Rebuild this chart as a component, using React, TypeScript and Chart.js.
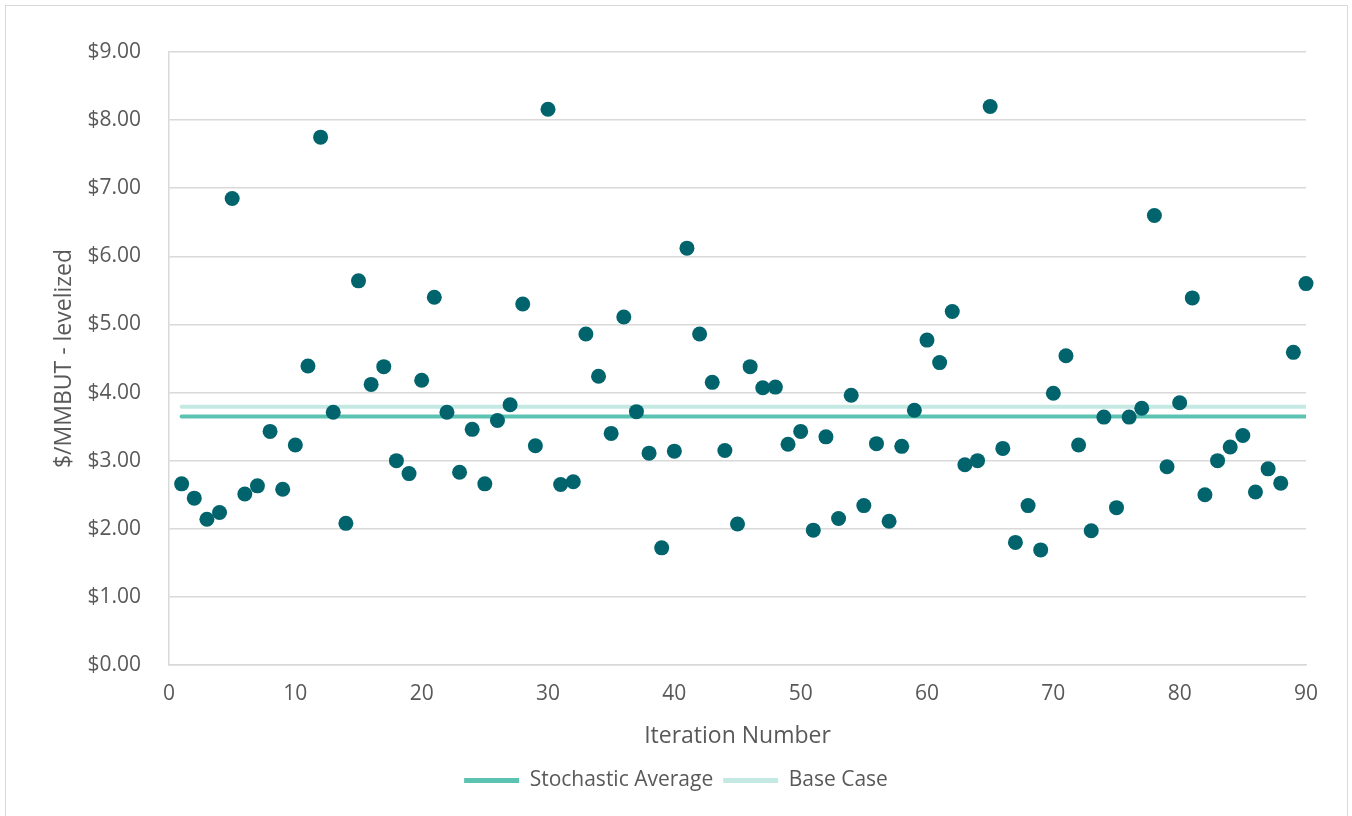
import React, { useEffect, useRef } from "react";
import { Chart, registerables } from "chart.js";

Chart.register(...registerables);

// Levelized cost per iteration ($/MMBTU), iterations 1..90
const levelizedCost: number[] = [
  2.66, 2.45, 2.14, 2.24, 6.85, 2.51, 2.63, 3.43, 2.58, 3.23,
  4.39, 7.75, 3.71, 2.08, 5.64, 4.12, 4.38, 3.0, 2.81, 4.18,
  5.4, 3.71, 2.83, 3.46, 2.66, 3.59, 3.82, 5.3, 3.22, 8.16,
  2.65, 2.69, 4.86, 4.24, 3.4, 5.11, 3.72, 3.11, 1.72, 3.14,
  6.12, 4.86, 4.15, 3.15, 2.07, 4.38, 4.07, 4.08, 3.24, 3.43,
  1.98, 3.35, 2.15, 3.96, 2.34, 3.25, 2.11, 3.21, 3.74, 4.77,
  4.44, 5.19, 2.94, 3.0, 8.2, 3.18, 1.8, 2.34, 1.69, 3.99,
  4.54, 3.23, 1.97, 3.64, 2.31, 3.64, 3.77, 6.6, 2.91, 3.85,
  5.39, 2.5, 3.0, 3.2, 3.37, 2.54, 2.88, 2.67, 4.59, 5.6,
];

const stochasticAverage = 3.65;
const baseCase = 3.79;
const lineSpan: number[] = [1, 90];

const xAxisRange: number[] = [0, 90, 10];
const yAxisRange: number[] = [0, 9, 1];

const seriesLabels: string[] = ["Stochastic Average", "Base Case"];
const xTitle = "Iteration Number";
const yTitle = "$/MMBUT - levelized";

const FONT = "'Open Sans', sans-serif";
const TEXT = "#595959";
const GRID = "#d9d9d9";

export default function App() {
  const ref = useRef<HTMLCanvasElement | null>(null);

  useEffect(() => {
    document.body.style.margin = "0";
    const canvas = ref.current;
    if (!canvas) return;
    const chart = new Chart(canvas, {
      type: "scatter",
      data: {
        datasets: [
          {
            label: "Iterations",
            data: levelizedCost.map((v, i) => ({ x: i + 1, y: v })),
            backgroundColor: "#01646D",
            borderColor: "#01646D",
            pointRadius: 7.5,
            pointHoverRadius: 7.5,
            borderWidth: 0,
            clip: false,
          } as any,
          {
            type: "line",
            label: seriesLabels[0],
            data: lineSpan.map((x) => ({ x, y: stochasticAverage })),
            borderColor: "#5CC3B3",
            backgroundColor: "#5CC3B3",
            borderWidth: 4,
            borderCapStyle: "round",
            pointRadius: 0,
            showLine: true,
          } as any,
          {
            type: "line",
            label: seriesLabels[1],
            data: lineSpan.map((x) => ({ x, y: baseCase })),
            borderColor: "#C4E9E3",
            backgroundColor: "#C4E9E3",
            borderWidth: 4,
            borderCapStyle: "round",
            pointRadius: 0,
            showLine: true,
          } as any,
        ],
      },
      options: {
        animation: false,
        responsive: false,
        maintainAspectRatio: false,
        layout: { padding: { left: 46, right: 46, top: 52, bottom: 15 } },
        plugins: {
          tooltip: { enabled: false },
          legend: {
            position: "bottom",
            labels: {
              font: { family: FONT, size: 21 },
              color: TEXT,
              boxWidth: 55,
              boxHeight: 5,
              padding: 10,
              filter: (item: any) => item.datasetIndex > 0,
              generateLabels: (ch: any) =>
                ch.data.datasets.map((ds: any, i: number) => ({
                  text: ds.label,
                  fillStyle: ds.borderColor,
                  strokeStyle: ds.borderColor,
                  lineWidth: 0,
                  hidden: false,
                  datasetIndex: i,
                  fontColor: TEXT,
                })),
            },
          },
        },
        scales: {
          x: {
            type: "linear",
            min: xAxisRange[0],
            max: xAxisRange[1],
            ticks: {
              stepSize: xAxisRange[2],
              font: { family: FONT, size: 21 },
              color: TEXT,
              padding: 16,
              maxRotation: 0,
            },
            grid: { display: false, drawTicks: false },
            border: { display: true, color: GRID, width: 1.5 },
            title: {
              display: true,
              text: xTitle,
              font: { family: FONT, size: 23 },
              color: TEXT,
              padding: { top: 0, bottom: 10 },
            },
            afterFit: (s: any) => {
              s.height = 95;
            },
          },
          y: {
            type: "linear",
            min: yAxisRange[0],
            max: yAxisRange[1],
            ticks: {
              stepSize: yAxisRange[2],
              font: { family: FONT, size: 21 },
              color: TEXT,
              padding: 28,
              callback: (v: any) => "$" + Number(v).toFixed(2),
            },
            grid: { color: GRID, lineWidth: 1.5, drawTicks: false },
            border: { display: true, color: GRID, width: 1.5 },
            title: {
              display: true,
              text: yTitle,
              font: { family: FONT, size: 23 },
              color: TEXT,
              padding: { top: 5, bottom: 0 },
            },
            afterFit: (s: any) => {
              s.width = 123;
            },
          },
        },
      } as any,
    });
    return () => chart.destroy();
  }, []);

  return (
    <div style={{ position: "absolute", left: 0, top: 0, width: 1352, height: 816, overflow: "hidden", background: "#fff" }}>
      <div
        style={{
          position: "absolute",
          left: 5,
          top: 5,
          width: 1343,
          height: 900,
          border: "1px solid #d9d9d9",
          boxSizing: "border-box",
        }}
      />
      <canvas ref={ref} width={1352} height={816} style={{ position: "absolute", left: 0, top: 0, display: "block" }} />
    </div>
  );
}
